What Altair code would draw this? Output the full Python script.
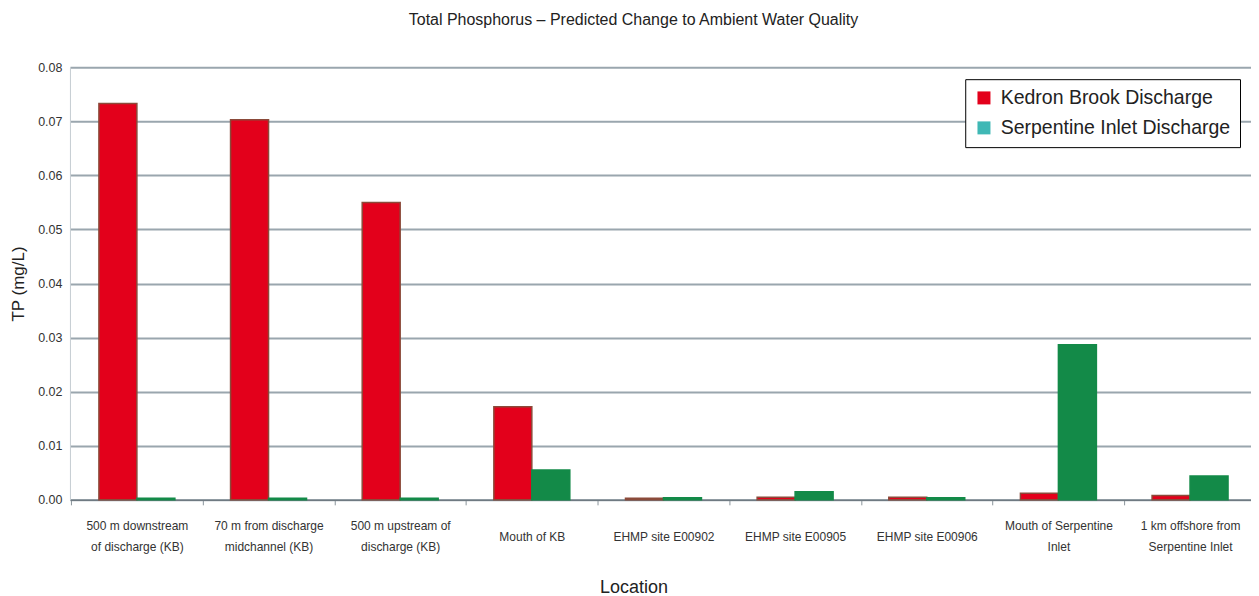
import altair as alt
import pandas as pd

categories = [
    "500 m downstream|of discharge (KB)",
    "70 m from discharge|midchannel (KB)",
    "500 m upstream of|discharge (KB)",
    "Mouth of KB",
    "EHMP site E00902",
    "EHMP site E00905",
    "EHMP site E00906",
    "Mouth of Serpentine|Inlet",
    "1 km offshore from|Serpentine Inlet",
]
series = ["Kedron Brook Discharge", "Serpentine Inlet Discharge"]
kedron = [0.0733, 0.0703, 0.0550, 0.0172, 0.0003, 0.0005, 0.0005, 0.0012, 0.0008]
serpentine = [0.0003, 0.0003, 0.0003, 0.0055, 0.0004, 0.0015, 0.0004, 0.0287, 0.0044]
bar_colors = ["#e3001b", "#138a48"]
legend_colors = ["#e3001b", "#3fb8b5"]

rows = []
for c, k, s in zip(categories, kedron, serpentine):
    rows.append({"Location": c, "Series": series[0], "TP": k})
    rows.append({"Location": c, "Series": series[1], "TP": s})
df = pd.DataFrame(rows)

FONT = "Liberation Sans"
HALF_STEP = 65.9

x_enc = alt.X(
    "Location:N",
    sort=categories,
    scale=alt.Scale(paddingInner=0.423, paddingOuter=0.22, range=[0, 1188]),
    axis=alt.Axis(
        title="Location",
        labelExpr="split(datum.label, '|')",
        labelAngle=0,
        labelBaseline="middle",
        labelFontSize=12,
        labelColor="#333333",
        labelFont=FONT,
        labelPadding={
            "condition": {"test": "indexof(datum.value, '|') < 0", "value": 31.5},
            "value": 21,
        },
        labelLineHeight=21,
        tickSize=5,
        tickColor="#8a949b",
        tickOffset=-HALF_STEP,
        labelOffset=HALF_STEP,
        domainColor="#6f7a82",
        domainWidth=1.5,
        titleFontSize=18,
        titleFont=FONT,
        titleFontWeight="normal",
        titleColor="#222222",
        titlePadding=26,
        titleX=564,
    ),
)
y_enc = alt.Y(
    "TP:Q",
    scale=alt.Scale(domain=[0, 0.08]),
    axis=alt.Axis(
        title="TP (mg/L)",
        values=[0, 0.01, 0.02, 0.03, 0.04, 0.05, 0.06, 0.07, 0.08],
        format=".2f",
        ticks=False,
        labelPadding=8,
        labelFontSize=12.5,
        labelColor="#333333",
        labelFont=FONT,
        gridColor="#9aa6ae",
        gridWidth=2,
        domainColor="#c5ccd2",
        titleFontSize=17,
        titleFont=FONT,
        titleFontWeight="normal",
        titleColor="#222222",
        titlePadding=10,
    ),
)

bars = alt.Chart(df).mark_bar(strokeWidth=1.5).encode(
    x=x_enc,
    xOffset=alt.XOffset("Series:N", sort=series),
    y=y_enc,
    fill=alt.Fill(
        "Series:N",
        sort=series,
        scale=alt.Scale(domain=series, range=bar_colors),
        legend=None,
    ),
    stroke=alt.condition(
        alt.datum.Series == "Kedron Brook Discharge",
        alt.value("#8b4a3a"),
        alt.value("#138a48"),
    ),
)

legend_layer = alt.Chart(df).transform_calculate(
    LegendSeries="datum.Series"
).mark_square(filled=True, opacity=0, size=1).encode(
    x=alt.X("Location:N", sort=categories),
    y=alt.Y("TP:Q"),
    color=alt.Color(
        "LegendSeries:N",
        sort=series,
        scale=alt.Scale(domain=series, range=legend_colors),
        legend=alt.Legend(
            title=None,
            orient="none",
            legendX=896,
            legendY=12,
            symbolType="square",
            symbolSize=169,
            labelFontSize=19.5,
            labelFont=FONT,
            labelColor="#222222",
            labelOffset=7,
            strokeColor="#000000",
            fillColor="#ffffff",
            padding=9,
            rowPadding=9,
            labelLimit=400,
            symbolStrokeWidth=0,
            symbolOpacity=1,
        ),
    ),
)

chart = alt.layer(bars, legend_layer).resolve_legend(color="independent").properties(
    width=1180,
    height=433,
    title=alt.TitleParams(
        "Total Phosphorus \u2013 Predicted Change to Ambient Water Quality",
        fontSize=16,
        font=FONT,
        fontWeight="normal",
        color="#222222",
        anchor="middle",
        dx=-26,
        offset=33,
    ),
    autosize=alt.AutoSizeParams(type="none"),
    padding={"left": 62, "top": 59, "right": 2, "bottom": 100},
).configure_view(stroke=None)

chart.save("out.html", embed_options={"renderer": "svg", "actions": False})
